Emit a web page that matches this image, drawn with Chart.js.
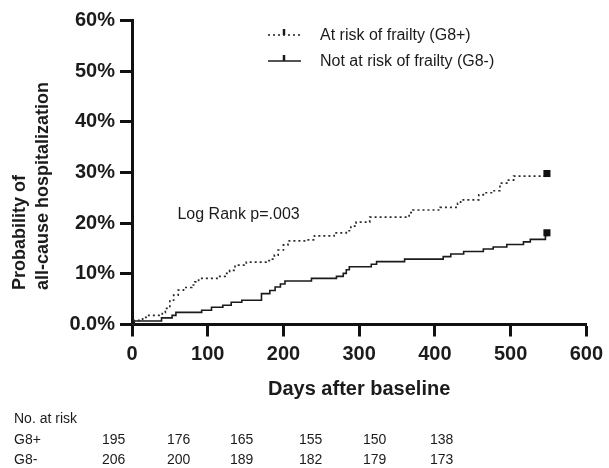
<!DOCTYPE html>
<html>
<head>
<meta charset="utf-8">
<script src="https://cdn.jsdelivr.net/npm/chart.js@4"></script>
<style>
  html, body { margin: 0; padding: 0; background: #fff; }
  #wrap { width: 609px; height: 468px; }
</style>
</head>
<body>
<div id="wrap"><canvas id="kmChart" width="609" height="468"></canvas></div>
<script>
// Kaplan-Meier style cumulative incidence
const g8PlusDays = [0, 3, 14, 20, 40, 44, 50, 55, 61, 68, 79, 83, 88, 114, 123, 129, 136, 151, 177, 184,
  188, 193, 200, 206, 228, 241, 267, 283, 289, 296, 314, 366, 371, 407, 430, 434, 458, 464, 477, 486,
  495, 504, 548]
const g8PlusPct = [0, 0.8, 1.4, 1.8, 2.4, 3.2, 4.8, 5.8, 6.8, 7.3, 7.8, 8.4, 9.1, 9.5, 10.1, 10.7, 11.7, 12.3, 12.6, 12.9,
  13.7, 14.7, 15.7, 16.5, 16.7, 17.5, 18.1, 18.5, 19.4, 20.2, 21.2, 22.1, 22.6, 23.1, 23.9, 24.6, 25.6, 26.0, 26.4, 27.9,
  28.5, 29.3, 29.8]

const g8MinusDays = [0, 3, 39, 53, 58, 92, 105, 120, 131, 145, 171, 182, 189, 196, 202, 237, 270, 279, 283, 287,
  316, 323, 360, 411, 421, 438, 464, 477, 495, 517, 526, 546, 548]
const g8MinusPct = [0, 0.7, 1.3, 1.8, 2.4, 2.8, 3.4, 3.8, 4.4, 4.8, 6.1, 6.7, 7.4, 8.0, 8.6, 9.1, 9.5, 10.1, 10.8, 11.4,
  11.9, 12.4, 12.9, 13.4, 13.9, 14.4, 14.9, 15.3, 15.8, 16.3, 16.8, 17.6, 18.1]

const seriesNames = ["At risk of frailty (G8+)", "Not at risk of frailty (G8-)"]
const xTicks = [0, 100, 200, 300, 400, 500, 600]
const yTicks = [0, 10, 20, 30, 40, 50, 60]
const yTickLabels = ["0.0%", "10%", "20%", "30%", "40%", "50%", "60%"]
const yTitleLines = ["Probability of", "all-cause hospitalization"]
const xTitle = "Days after baseline"
const logRankText = "Log Rank p=.003"

const riskRowNames = ["G8+", "G8-"]
const riskG8Plus = [195, 176, 165, 155, 150, 138]
const riskG8Minus = [206, 200, 189, 182, 179, 173]

const FONT = '"Liberation Sans", Arial, Helvetica, sans-serif'
const INK = "#1b1b1b"

function toPoints(days, pct) {
  return days.map((d, i) => ({ x: d, y: pct[i] }))
}

function lastOnly(size) {
  return ctx => ctx.dataIndex === ctx.dataset.data.length - 1 ? size : 0
}

const extras = {
  id: "extras",
  afterDraw(chart) {
    const ctx = chart.ctx
    const xs = chart.scales.x
    const ys = chart.scales.y
    ctx.save()
    ctx.fillStyle = INK
    ctx.strokeStyle = INK

    // y axis title, two lines, start-aligned at the bottom
    ctx.font = "bold 18px " + FONT
    ctx.textAlign = "left"
    ctx.textBaseline = "middle"
    const titleX = [20, 43]
    yTitleLines.forEach((t, i) => {
      ctx.save()
      ctx.translate(titleX[i], 290)
      ctx.rotate(-Math.PI / 2)
      ctx.fillText(t, 0, 0)
      ctx.restore()
    })

    // legend
    const legendY = [35, 61]
    ctx.font = "16px " + FONT
    seriesNames.forEach((name, i) => {
      const y = legendY[i]
      ctx.lineWidth = 1.6
      ctx.setLineDash(i === 0 ? [2, 3] : [])
      ctx.beginPath()
      ctx.moveTo(268, y)
      ctx.lineTo(301, y)
      ctx.stroke()
      ctx.setLineDash([])
      ctx.lineWidth = 2.5
      ctx.beginPath()
      ctx.moveTo(284, y)
      ctx.lineTo(284, y - 6)
      ctx.stroke()
      ctx.fillText(name, 320, y + 1)
    })

    // log rank annotation
    ctx.font = "16px " + FONT
    ctx.fillText(logRankText, xs.getPixelForValue(60), ys.getPixelForValue(21.6))

    // number at risk table
    ctx.font = "14px " + FONT
    const colX = [102, 167, 230, 299, 363, 430]
    ctx.fillText("No. at risk", 14, 419)
    ;[riskG8Plus, riskG8Minus].forEach((row, r) => {
      const y = 440 + r * 20
      ctx.fillText(riskRowNames[r], 14, y)
      row.forEach((v, c) => ctx.fillText(String(v), colX[c], y))
    })
    ctx.restore()
  }
}

new Chart(document.getElementById("kmChart"), {
  type: "line",
  data: {
    datasets: [
      {
        label: seriesNames[0],
        data: toPoints(g8PlusDays, g8PlusPct),
        stepped: true,
        borderColor: "#2a2a2a",
        borderWidth: 1.7,
        borderDash: [2, 3],
        pointStyle: "rect",
        pointRadius: lastOnly(5),
        pointBackgroundColor: "#111",
        pointBorderWidth: 0,
        fill: false,
        clip: false
      },
      {
        label: seriesNames[1],
        data: toPoints(g8MinusDays, g8MinusPct),
        stepped: true,
        borderColor: "#1a1a1a",
        borderWidth: 1.6,
        pointStyle: "rect",
        pointRadius: lastOnly(5),
        pointBackgroundColor: "#111",
        pointBorderWidth: 0,
        fill: false,
        clip: false
      }
    ]
  },
  options: {
    responsive: false,
    animation: false,
    layout: { padding: { left: 0, top: 20.5, right: 19, bottom: 0 } },
    plugins: {
      legend: { display: false },
      tooltip: { enabled: false }
    },
    scales: {
      x: {
        type: "linear",
        min: 0,
        max: 600,
        afterFit: s => { s.height = 143.5 },
        afterBuildTicks: s => { s.ticks = xTicks.map(v => ({ value: v })) },
        border: { color: "#111", width: 3 },
        grid: { drawOnChartArea: false, tickLength: 12, tickWidth: 3, tickColor: "#111" },
        ticks: { color: INK, padding: 6, font: { family: FONT, size: 20, weight: "bold" } },
        title: {
          display: true,
          text: xTitle,
          color: INK,
          font: { family: FONT, size: 20, weight: "bold" },
          padding: { top: 0, bottom: 67 }
        }
      },
      y: {
        min: 0,
        max: 60,
        afterFit: s => { s.width = 132 },
        afterBuildTicks: s => { s.ticks = yTicks.map(v => ({ value: v })) },
        border: { color: "#111", width: 3 },
        grid: { drawOnChartArea: false, tickLength: 12, tickWidth: 3, tickColor: "#111" },
        ticks: {
          color: INK,
          padding: 5,
          font: { family: FONT, size: 20, weight: "bold" },
          callback: v => yTickLabels[yTicks.indexOf(v)]
        }
      }
    }
  },
  plugins: [extras]
})
</script>
</body>
</html>
